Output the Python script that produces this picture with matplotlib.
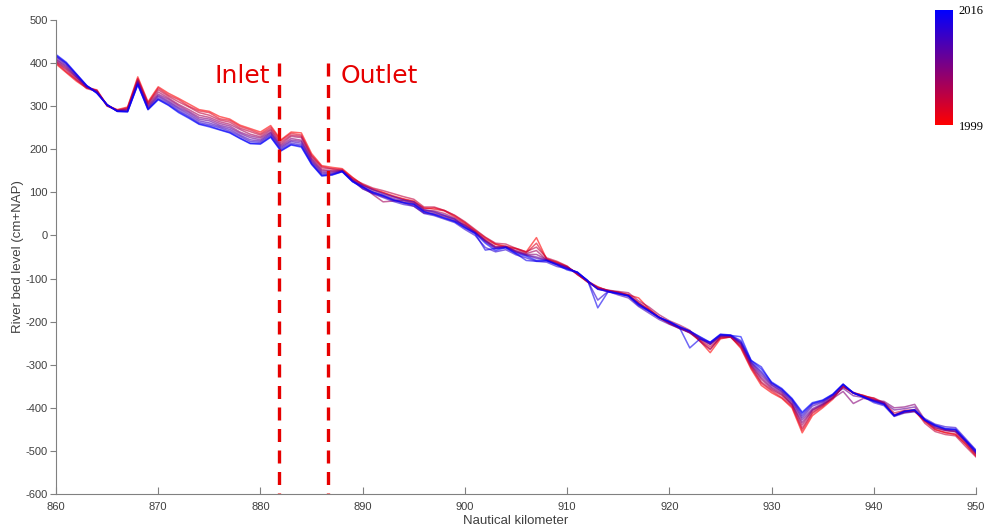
import numpy as np
import matplotlib
matplotlib.use('Agg')
import matplotlib.pyplot as plt
from matplotlib.colors import LinearSegmentedColormap, Normalize
from matplotlib.cm import ScalarMappable

# Longitudinal river bed profiles, one per survey year (cm+NAP), km 860..950
km = np.arange(860, 951)

bed_1999 = [398, 378, 358, 342, 338, 302, 292, 298, 368, 310,
            345, 330, 318, 305, 292, 288, 276, 270, 256, 248,
            240, 255, 222, 240, 238, 190, 162, 158, 155, 135,
            118, 108, 100, 92, 85, 80, 62, 64, 58, 46,
            30, 12, -5, -20, -25, -30, -38, -5, -55, -62,
            -72, -90, -108, -120, -128, -132, -138, -145, -170, -190,
            -205, -215, -225, -245, -272, -240, -235, -262, -310, -348,
            -365, -378, -400, -458, -418, -400, -380, -350, -365, -372,
            -378, -390, -418, -410, -408, -432, -450, -458, -462, -485,
            -512]
bed_2001 = [401, 380, 361, 344, 336, 300, 291, 296, 364, 307,
            342, 326, 315, 300, 289, 285, 271, 267, 253, 245,
            236, 251, 220, 237, 233, 186, 160, 155, 153, 134,
            117, 106, 99, 90, 84, 78, 64, 61, 57, 43,
            28, 10, -8, -21, -27, -31, -40, -18, -54, -63,
            -73, -88, -107, -121, -127, -133, -137, -157, -171, -189,
            -204, -214, -226, -244, -263, -238, -236, -259, -307, -343,
            -361, -376, -397, -452, -413, -397, -377, -349, -366, -371,
            -380, -389, -417, -411, -407, -430, -451, -457, -461, -484,
            -510]
bed_2003 = [403, 384, 362, 341, 334, 303, 289, 295, 362, 306,
            338, 323, 310, 298, 285, 279, 268, 263, 249, 241,
            233, 247, 216, 233, 230, 184, 157, 154, 151, 131,
            120, 110, 104, 97, 90, 84, 66, 66, 58, 47,
            32, 14, -4, -18, -20, -30, -38, -27, -52, -60,
            -71, -91, -106, -119, -129, -131, -139, -156, -173, -191,
            -203, -216, -224, -242, -258, -237, -236, -257, -304, -340,
            -358, -371, -394, -447, -410, -395, -376, -351, -366, -374,
            -377, -388, -412, -406, -404, -436, -455, -462, -465, -490,
            -514]
bed_2005 = [405, 387, 366, 346, 336, 301, 290, 293, 359, 303,
            333, 319, 304, 292, 279, 274, 264, 258, 246, 235,
            229, 244, 212, 230, 227, 180, 153, 150, 151, 130,
            114, 95, 78, 80, 82, 75, 58, 57, 51, 40,
            25, 8, -11, -26, -27, -35, -42, -35, -57, -65,
            -73, -90, -108, -123, -127, -130, -133, -152, -166, -184,
            -198, -208, -220, -246, -265, -235, -233, -254, -302, -334,
            -355, -369, -391, -440, -406, -393, -375, -352, -364, -372,
            -382, -390, -417, -407, -408, -430, -447, -453, -456, -480,
            -507]
bed_2007 = [408, 390, 367, 344, 333, 302, 289, 292, 358, 301,
            328, 316, 301, 288, 274, 270, 260, 254, 240, 231,
            226, 240, 209, 225, 221, 177, 150, 149, 150, 129,
            108, 98, 90, 82, 76, 68, 52, 50, 44, 34,
            24, 8, -12, -27, -25, -37, -44, -44, -56, -66,
            -74, -87, -106, -124, -130, -133, -140, -158, -174, -191,
            -202, -214, -223, -239, -253, -234, -235, -252, -300, -330,
            -352, -366, -392, -434, -405, -392, -378, -362, -390, -378,
            -383, -385, -400, -398, -392, -428, -446, -452, -455, -479,
            -506]
bed_2009 = [410, 393, 369, 345, 334, 302, 290, 290, 356, 298,
            325, 312, 297, 285, 270, 266, 256, 250, 237, 227,
            222, 238, 206, 221, 218, 174, 147, 146, 150, 128,
            113, 102, 94, 86, 79, 74, 57, 53, 46, 37,
            22, 7, -13, -29, -26, -38, -45, -50, -57, -66,
            -75, -87, -105, -123, -129, -134, -139, -160, -174, -190,
            -201, -213, -222, -238, -252, -233, -233, -250, -297, -325,
            -348, -363, -387, -428, -402, -390, -372, -355, -372, -376,
            -382, -388, -405, -402, -398, -429, -443, -451, -454, -478,
            -505]
bed_2011 = [414, 396, 371, 347, 332, 303, 289, 289, 354, 296,
            322, 309, 294, 281, 266, 261, 253, 246, 233, 222,
            219, 235, 203, 218, 214, 171, 144, 144, 149, 127,
            116, 106, 97, 90, 82, 78, 60, 55, 47, 38,
            20, 6, -15, -31, -27, -39, -46, -53, -58, -67,
            -76, -86, -106, -124, -130, -138, -145, -165, -180, -195,
            -206, -216, -226, -240, -252, -232, -232, -249, -295, -320,
            -346, -361, -384, -423, -396, -387, -371, -347, -366, -374,
            -383, -391, -417, -408, -405, -429, -442, -450, -452, -477,
            -503]
bed_2013 = [416, 399, 373, 347, 331, 304, 288, 288, 352, 294,
            318, 306, 290, 277, 262, 257, 250, 242, 230, 218,
            216, 232, 200, 214, 210, 168, 141, 142, 149, 126,
            109, 97, 88, 79, 72, 68, 51, 46, 38, 30,
            14, 0, -28, -38, -33, -45, -52, -60, -62, -72,
            -77, -85, -105, -150, -130, -135, -140, -160, -175, -190,
            -200, -212, -222, -236, -249, -231, -232, -247, -293, -316,
            -343, -358, -381, -418, -392, -385, -370, -346, -365, -375,
            -388, -395, -420, -412, -409, -425, -438, -444, -446, -472,
            -498]
bed_2015 = [418, 400, 374, 348, 330, 303, 288, 287, 350, 292,
            316, 303, 287, 274, 259, 254, 246, 239, 226, 214,
            213, 229, 197, 211, 207, 166, 139, 141, 148, 125,
            112, 100, 92, 83, 76, 72, 55, 49, 41, 33,
            18, 4, -34, -30, -29, -42, -58, -60, -59, -68,
            -80, -86, -104, -168, -131, -135, -141, -163, -176, -191,
            -201, -214, -261, -240, -248, -229, -231, -244, -290, -305,
            -342, -357, -380, -413, -390, -383, -369, -345, -366, -375,
            -385, -392, -419, -409, -405, -428, -441, -449, -450, -476,
            -501]
bed_2016 = [420, 402, 375, 348, 330, 303, 288, 287, 350, 292,
            315, 302, 285, 272, 258, 252, 245, 238, 225, 213,
            212, 228, 196, 210, 205, 165, 138, 140, 148, 125,
            112, 100, 92, 82, 76, 72, 55, 48, 40, 32,
            18, 5, -18, -35, -28, -42, -48, -58, -58, -68,
            -78, -85, -105, -125, -130, -135, -140, -160, -175, -190,
            -200, -212, -222, -235, -248, -230, -232, -235, -290, -310,
            -340, -355, -378, -410, -388, -382, -368, -345, -365, -375,
            -385, -392, -418, -408, -405, -428, -440, -448, -450, -475,
            -500]

years = [1999, 2001, 2003, 2005, 2007, 2009, 2011, 2013, 2015, 2016]
profiles = [bed_1999, bed_2001, bed_2003, bed_2005, bed_2007,
            bed_2009, bed_2011, bed_2013, bed_2015, bed_2016]

inlet_km = 881.8
outlet_km = 886.6

plt.rcParams['font.family'] = ['Liberation Sans', 'DejaVu Sans']
plt.rcParams['axes.unicode_minus'] = False

W, H = 987, 526
fig = plt.figure(figsize=(W / 100, H / 100), dpi=100)
ax = fig.add_axes([56 / W, 1 - 494 / H, 920 / W, 474 / H])

cmap = LinearSegmentedColormap.from_list('redblue', [(1, 0, 0), (0, 0, 1)])
norm = Normalize(vmin=years[0], vmax=years[-1])

for yr, prof in zip(years, profiles):
    ax.plot(km, prof, color=cmap(norm(yr)), lw=1.1, alpha=0.6)

# Inlet / outlet of the side channel, dashes running down from the top
red = '#e60000'
for xk in (inlet_km, outlet_km):
    ax.plot([xk, xk], [400, -600], color=red, lw=2.4,
            linestyle=(0, (3.9, 2.55)), solid_capstyle='butt')
ax.text(880.9, 354, 'Inlet', color=red, fontsize=18, family='DejaVu Sans',
        ha='right', va='baseline')
ax.text(887.8, 354, 'Outlet', color=red, fontsize=18, family='DejaVu Sans',
        ha='left', va='baseline')

ax.set_xlim(860, 950)
ax.set_ylim(-600, 500)
ax.set_xticks(np.arange(860, 951, 10))
ax.set_yticks(np.arange(-600, 501, 100))
for s in ('top', 'right'):
    ax.spines[s].set_visible(False)
for s in ('left', 'bottom'):
    ax.spines[s].set_color('#808080')
    ax.spines[s].set_linewidth(0.8)
ax.tick_params(axis='x', direction='in', length=5, color='#808080',
               labelsize=8, labelcolor='#404040', pad=6)
ax.tick_params(axis='y', direction='out', length=4, color='#808080',
               labelsize=8, labelcolor='#404040', pad=2)
ax.set_xlabel('Nautical kilometer', fontsize=9.5, color='#404040', labelpad=2)
ax.set_ylabel('River bed level (cm+NAP)', fontsize=9.5, color='#404040', labelpad=1)

# Year colour scale
cax = fig.add_axes([935 / W, 1 - 125 / H, 18 / W, 115 / H])
cb = fig.colorbar(ScalarMappable(norm=norm, cmap=cmap), cax=cax,
                  ticks=[years[0], years[-1]])
cb.outline.set_visible(False)
cb.ax.tick_params(length=0, pad=4)
for lab in cb.ax.get_yticklabels():
    lab.set_family('Liberation Serif')
    lab.set_fontsize(9)

fig.savefig('out.png', dpi=100)
